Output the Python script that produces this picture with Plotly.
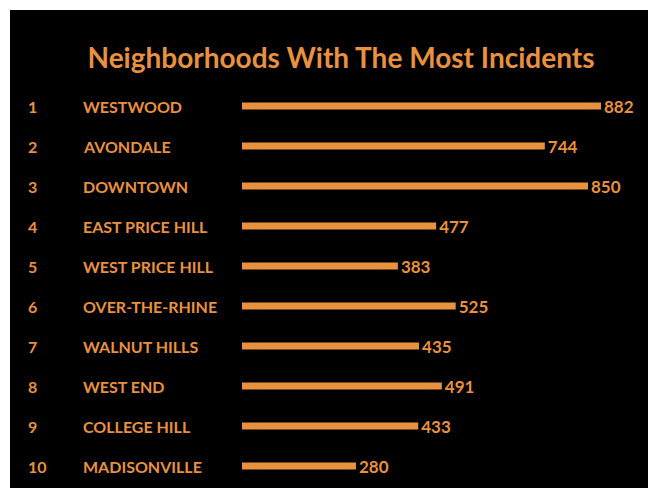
import plotly.graph_objects as go

ranks = ["1", "2", "3", "4", "5", "6", "7", "8", "9", "10"]
neighborhoods = ["WESTWOOD", "AVONDALE", "DOWNTOWN", "EAST PRICE HILL", "WEST PRICE HILL",
                 "OVER-THE-RHINE", "WALNUT HILLS", "WEST END", "COLLEGE HILL", "MADISONVILLE"]
incidents = [882, 744, 850, 477, 383, 525, 435, 491, 433, 280]
title_text = "Neighborhoods With The Most Incidents"

ORANGE = "#E8913F"
FONT = "Lato"

W, H = 648, 492
L, T, R, B = 10, 10, 0, 4
px_per_unit = (601 - 242) / 882.0
x_left = -(242 - L) / px_per_unit
x_right = (W - R - 242) / px_per_unit
row_gap = 40.0
plot_h = H - T - B
y_top = 1 - (106 - T) / row_gap
y_bot = y_top + plot_h / row_gap

pos = list(range(1, len(neighborhoods) + 1))

fig = go.Figure()
fig.add_trace(go.Bar(
    x=incidents, y=pos, orientation="h",
    marker=dict(color=ORANGE, line=dict(width=0)),
    width=0.18,
    text=[str(v) for v in incidents], textposition="outside",
    constraintext="none",
    textfont=dict(color=ORANGE, size=17, family=FONT, weight="bold"),
    cliponaxis=False, hoverinfo="skip",
))

ann = []
for p, r, n in zip(pos, ranks, neighborhoods):
    ann.append(dict(x=(26 - L) / (W - L - R), xref="paper", y=p, yref="y", text=r,
                    showarrow=False, xanchor="left", yanchor="middle",
                    font=dict(color=ORANGE, size=16, family=FONT, weight="bold")))
    ann.append(dict(x=(81 - L) / (W - L - R), xref="paper", y=p, yref="y", text=n,
                    showarrow=False, xanchor="left", yanchor="middle",
                    font=dict(color=ORANGE, size=16, family=FONT, weight="bold")))

fig.update_layout(
    width=W, height=H,
    margin=dict(l=L, r=R, t=T, b=B, pad=0),
    paper_bgcolor="white", plot_bgcolor="black",
    showlegend=False,
    title=dict(text=title_text, x=341 / W, xref="container", xanchor="center",
               y=1 - 58 / H, yref="container", yanchor="middle",
               font=dict(color=ORANGE, size=28, family=FONT, weight="bold")),
    xaxis=dict(range=[x_left, x_right], visible=False, fixedrange=True),
    yaxis=dict(range=[y_bot, y_top], visible=False, fixedrange=True),
    annotations=ann,
)

fig.write_html("out.html")
